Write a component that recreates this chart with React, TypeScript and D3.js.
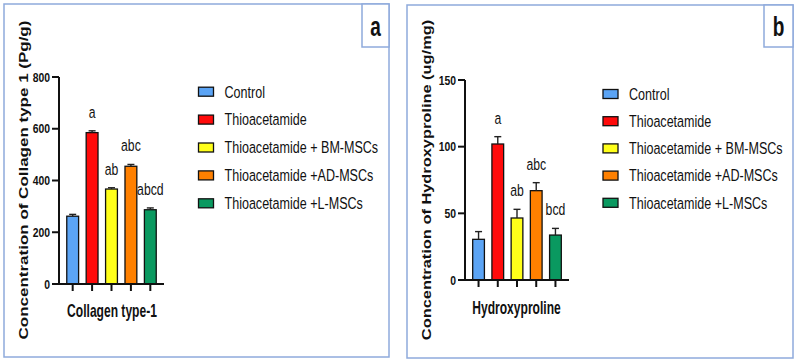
import * as d3 from "d3";

// Group names and the fill used for each group, in legend order.
const groups = [
  "Control",
  "Thioacetamide",
  "Thioacetamide + BM-MSCs",
  "Thioacetamide +AD-MSCs",
  "Thioacetamide +L-MSCs",
];
const groupColors = ["#5BA4F5", "#FF0A0A", "#FFFF1A", "#FF8000", "#0A9960"];

// Panel a: collagen type 1, mean and SEM per group, significance letters.
const collagenMean = [262, 585, 367, 455, 287];
const collagenSem = [7, 7, 5, 7, 7];
const collagenLetters = ["", "a", "ab", "abc", "abcd"];
const collagenTicks = [0, 200, 400, 600, 800];

// Panel b: hydroxyproline.
const hypMean = [30.5, 102, 46.5, 67, 33.7];
const hypSem = [5.8, 5.5, 6.5, 6, 5];
const hypLetters = ["", "a", "ab", "abc", "bcd"];
const hypTicks = [0, 50, 100, 150];

const FONT = "'Liberation Sans', Arial, sans-serif";
const FRAME = "#8FAADC";

type PanelProps = {
  tag: string;
  frame: [number, number, number, number]; // x0, y0, x1, y1
  tagBoxX: number;
  axisX: [number, number];
  axisY: [number, number];
  means: number[];
  sems: number[];
  letters: string[];
  ticks: number[];
  yTitle: string;
  yTitleSize: number;
  yTitleX: number;
  xTitle: string;
  xTitleX: number;
  xTitleY: number;
  legendX: number;
  legendY: number;
  legendStep: number;
};

// Text squeezed horizontally, the way the figure's type is set.
function Squeezed({ x, y, sx, rotate = 0, children, ...rest }: any) {
  return (
    <text transform={`translate(${x},${y}) scale(${sx},1) rotate(${rotate})`} fontFamily={FONT} {...rest}>
      {children}
    </text>
  );
}

function Panel(p: PanelProps) {
  const [fx0, fy0, fx1, fy1] = p.frame;
  const x = d3
    .scaleBand<string>()
    .domain(groups)
    .range(p.axisX)
    .paddingInner(0.39)
    .paddingOuter(0.4);
  const y = d3
    .scaleLinear()
    .domain([0, p.ticks[p.ticks.length - 1]])
    .range(p.axisY);
  const bw = x.bandwidth();
  const cap = 3.5;

  return (
    <g>
      <rect x={fx0} y={fy0} width={fx1 - fx0} height={fy1 - fy0} fill="#fff" stroke={FRAME} strokeWidth={1.5} />
      <rect x={p.tagBoxX} y={fy0} width={fx1 - p.tagBoxX} height={47 - fy0} fill="#fff" stroke={FRAME} strokeWidth={1.5} />
      <Squeezed x={(p.tagBoxX + fx1) / 2} y={36} sx={0.68} fontSize={28} fontWeight="bold" textAnchor="middle" fill="#111">
        {p.tag}
      </Squeezed>

      {/* bars */}
      {groups.map((g, i) => (
        <rect
          key={g}
          x={x(g)}
          y={y(p.means[i])}
          width={bw}
          height={y(0) - y(p.means[i])}
          fill={groupColors[i]}
          stroke="#111"
          strokeWidth={1.3}
        />
      ))}

      {/* upper error bars */}
      {groups.map((g, i) => {
        const cx = (x(g) ?? 0) + bw / 2;
        const top = y(p.means[i] + p.sems[i]);
        return (
          <g key={g} stroke="#222" strokeWidth={1.4}>
            <line x1={cx} x2={cx} y1={y(p.means[i])} y2={top} />
            <line x1={cx - cap} x2={cx + cap} y1={top} y2={top} />
          </g>
        );
      })}

      {/* significance letters */}
      {groups.map((g, i) =>
        p.letters[i] ? (
          <Squeezed
            key={g}
            x={(x(g) ?? 0) + bw / 2}
            y={y(p.means[i] + p.sems[i]) - 13}
            sx={0.74}
            fontSize={16.5}
            textAnchor="middle"
            fill="#111"
          >
            {p.letters[i]}
          </Squeezed>
        ) : null
      )}

      {/* axes */}
      <g stroke="#111" strokeWidth={2} fill="none">
        <line x1={p.axisX[0]} x2={p.axisX[0]} y1={y(0)} y2={y(p.ticks[p.ticks.length - 1])} />
        <line x1={p.axisX[0]} x2={p.axisX[1]} y1={y(0)} y2={y(0)} />
        {p.ticks.map((t) => (
          <line key={t} x1={p.axisX[0] - 7} x2={p.axisX[0]} y1={y(t)} y2={y(t)} />
        ))}
        {groups.map((g) => {
          const cx = (x(g) ?? 0) + bw / 2;
          return <line key={g} x1={cx} x2={cx} y1={y(0)} y2={y(0) + 7} />;
        })}
      </g>
      {p.ticks.map((t) => (
        <Squeezed key={t} x={p.axisX[0] - 9} y={y(t)} dy="0.36em" sx={0.8} fontSize={13} fontWeight="bold" textAnchor="end" fill="#111">
          {t}
        </Squeezed>
      ))}

      <Squeezed x={p.yTitleX} y={180} dy="0.36em" sx={0.76} rotate={-90} fontSize={p.yTitleSize} fontWeight="bold" textAnchor="middle" fill="#111">
        {p.yTitle}
      </Squeezed>
      <Squeezed x={p.xTitleX} y={p.xTitleY} sx={0.69} fontSize={17.5} fontWeight="bold" textAnchor="middle" fill="#111">
        {p.xTitle}
      </Squeezed>

      {/* legend */}
      {groups.map((g, i) => {
        const cy = p.legendY + i * p.legendStep;
        return (
          <g key={g}>
            <rect x={p.legendX} y={cy - 4.5} width={15} height={9} fill={groupColors[i]} stroke="#111" strokeWidth={1.3} />
            <Squeezed x={p.legendX + 26} y={cy} dy="0.36em" sx={0.77} fontSize={16.3} fill="#111">
              {g}
            </Squeezed>
          </g>
        );
      })}
    </g>
  );
}

export default function App() {
  return (
    <svg width={797} height={363} style={{ position: "absolute", left: 0, top: 0, background: "#fff" }}>
      <Panel
        tag="a"
        frame={[4, 4, 389, 357]}
        tagBoxX={362}
        axisX={[59, 164]}
        axisY={[284, 77]}
        means={collagenMean}
        sems={collagenSem}
        letters={collagenLetters}
        ticks={collagenTicks}
        yTitle="Concentration of Collagen type 1 (Pg/g)"
        yTitleSize={17}
        yTitleX={23.5}
        xTitle="Collagen type-1"
        xTitleX={112}
        xTitleY={317}
        legendX={198.5}
        legendY={91.7}
        legendStep={27.9}
      />
      <Panel
        tag="b"
        frame={[407, 5, 793, 358]}
        tagBoxX={764}
        axisX={[465, 569]}
        axisY={[280, 80]}
        means={hypMean}
        sems={hypSem}
        letters={hypLetters}
        ticks={hypTicks}
        yTitle="Concentration of Hydroxyproline (ug/mg)"
        yTitleSize={16.4}
        yTitleX={426.5}
        xTitle="Hydroxyproline"
        xTitleX={516.5}
        xTitleY={314}
        legendX={603}
        legendY={94}
        legendStep={27.2}
      />
    </svg>
  );
}
